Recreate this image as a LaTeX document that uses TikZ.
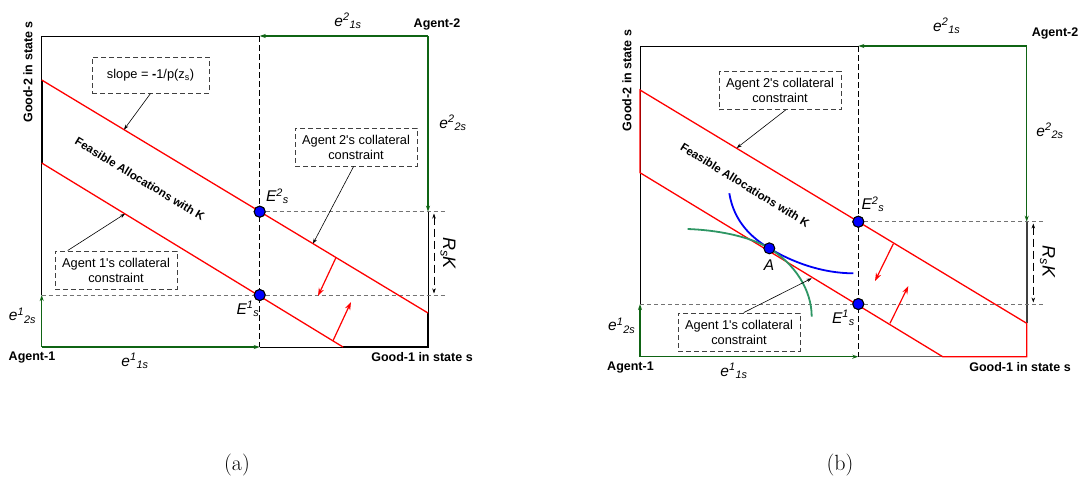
\documentclass[tikz,border=0pt]{standalone}
\usepackage{fontspec}
\newfontfamily\arialf{Liberation Sans}
\usetikzlibrary{arrows.meta,positioning}
\definecolor{redline}{RGB}{255,0,0}
\definecolor{greenedge}{RGB}{15,100,20}
\definecolor{greencurve}{RGB}{46,150,100}
\definecolor{bluecurve}{RGB}{0,0,245}
\newcommand{\supsub}[3]{#1\textsuperscript{#2}\textsubscript{#3}}

\tikzset{
  dashbox/.style={draw=black!75, dash pattern=on 5pt off 3pt, line width=1pt,
    minimum width=122pt, minimum height=38pt, inner sep=2pt, align=center,
    font=\arialf\fontsize{12.8}{15}\selectfont},
  leader/.style={-{Stealth[length=5pt,width=3.5pt]}, black, line width=0.6pt},
  moveline/.style={-{Stealth[length=8pt,width=5.5pt]}, redline, line width=1.2pt},
  endow/.style={-{Stealth[length=6pt,width=4pt]}, greenedge, line width=1.3pt},
  budget/.style={redline, line width=1.3pt},
  guide/.style={black!55, dash pattern=on 4pt off 3pt, line width=0.7pt},
  split/.style={black, dash pattern=on 6pt off 3pt, line width=0.9pt},
  frame/.style={black, line width=1pt},
  dimline/.style={{Stealth[length=5pt,width=3.5pt]}-{Stealth[length=5pt,width=3.5pt]}, black, dash pattern=on 8pt off 4pt, line width=0.7pt},
  dot/.style={circle, fill=blue, draw=black, line width=1pt, inner sep=0pt, minimum size=11pt},
  sym/.style={font=\arialf\itshape\fontsize{15.5}{17}\selectfont, inner sep=0pt},
  bigsym/.style={font=\arialf\itshape\fontsize{18}{20}\selectfont, inner sep=0pt},
  agent/.style={font=\arialf\bfseries\fontsize{12.5}{14}\selectfont, inner sep=0pt},
  feas/.style={font=\arialf\bfseries\fontsize{11.5}{13}\selectfont, inner sep=0pt},
  capt/.style={font=\fontsize{22}{26}\selectfont, inner sep=0pt}
}

\begin{document}
\begin{tikzpicture}[x=1pt,y=-1pt]
\useasboundingbox (0,0) rectangle (1078,480);

% ---------------- panel (a) ----------------
\coordinate (a-nw) at (41.7,36);
\coordinate (a-ne) at (428,36);
\coordinate (a-sw) at (41.7,347);
\coordinate (a-se) at (428,347);
\coordinate (a-mt) at (259.7,36);
\coordinate (a-mb) at (259.7,347);
\coordinate (a-l1) at (41.7,295);
\coordinate (a-r2) at (428,211.7);
\coordinate (a-u1) at (41.7,80);
\coordinate (a-u2) at (428,313);
\coordinate (a-d1) at (41.7,163);
\coordinate (a-d2) at (343,347);
\coordinate (a-g1) at (447,295);
\coordinate (a-g2) at (447,211.7);

% box edges
\draw[frame] (a-nw) -- (a-mt);
\draw[frame] (a-nw) -- (a-l1);
\draw[frame] (a-mb) -- (a-se) -- (a-r2);
\draw[black, line width=2pt] (a-u1) -- (a-d1);
\draw[black, line width=2pt] (a-d2) -- (a-se) -- (a-u2);
\draw[endow] (a-sw) -- (a-mb);
\draw[endow] (a-sw) -- (a-l1);
\draw[endow] (a-ne) -- (a-mt);
\draw[endow] (a-ne) -- (a-r2);

% dashed guides
\draw[split] (a-mt) -- (a-mb);
\node[dot] (a-E2) at (259.7,211.7) {};
\node[dot] (a-E1) at (259.7,295) {};
\draw[guide] (a-E2) -- (a-g2);
\draw[guide] (a-l1) -- (a-E1) -- (a-g1);

% budget lines
\draw[budget] (a-u1) -- (a-u2);
\draw[budget] (a-d1) -- (a-d2);
\node[dot] at (a-E2) {};
\node[dot] at (a-E1) {};

% shifts
\coordinate (a-s1) at (336,257.5);
\coordinate (a-s2) at (318,296);
\coordinate (a-s3) at (333,340.7);
\coordinate (a-s4) at (351,302);
\draw[moveline] (a-s1) -- (a-s2);
\draw[moveline] (a-s3) -- (a-s4);

% R_s K
\coordinate (a-k1) at (434,213.5);
\coordinate (a-k2) at (434,293.5);
\draw[dimline] (a-k1) -- (a-k2);
\node[bigsym, rotate=-90] (a-rk) at (448,253) {R\textsubscript{s}K};

% notes
\node[dashbox, minimum width=117pt, minimum height=36pt] (a-slope) at (150.5,75) {slope = \textbf{-}1/p(z\textsubscript{s})};
\node[dashbox] (a-c2) at (356,147) {Agent 2\textquotesingle s collateral\\constraint};
\node[dashbox] (a-c1) at (116,270) {Agent 1\textquotesingle s collateral\\constraint};
\coordinate (a-t0) at (124,129.6);
\coordinate (a-t2) at (313,243.6);
\coordinate (a-t1) at (125,213.8);
\draw[leader] (a-slope.south) -- (a-t0);
\draw[leader] (a-c2.-97) -- (a-t2);
\draw[leader] (a-c1.158) -- (a-t1);

\node[feas, rotate=-31.2] (a-feas) at (140,179) {Feasible Allocations with K};

% labels
\node[sym] (a-e21) at (348,21) {\supsub{e}{2}{1s}};
\node[agent] (a-ag2) at (437,24) {Agent-2};
\node[sym] (a-e22) at (453,123) {\supsub{e}{2}{2s}};
\node[agent, rotate=90] (a-good2) at (28,72) {Good-2 in state s};
\node[sym] (a-lE2) at (277.5,196) {\supsub{E}{2}{s}};
\node[sym] (a-lE1) at (248,309) {\supsub{E}{1}{s}};
\node[sym] (a-e12) at (22.5,316) {\supsub{e}{1}{2s}};
\node[agent] (a-ag1) at (32,358) {Agent-1};
\node[sym] (a-e11) at (135,361) {\supsub{e}{1}{1s}};
\node[agent] (a-good1) at (422,357) {Good-1 in state s};
\node[capt] (a-cap) at (237,465) {(a)};

% ---------------- panel (b) ----------------
\coordinate (b-nw) at (640,46);
\coordinate (b-ne) at (1026.7,46);
\coordinate (b-sw) at (640,356.7);
\coordinate (b-se) at (1026.7,356.7);
\coordinate (b-mt) at (858.3,46);
\coordinate (b-mb) at (858.3,356.7);
\coordinate (b-l1) at (640,304);
\coordinate (b-r2) at (1026.7,221.7);
\coordinate (b-u1) at (640,90);
\coordinate (b-u2) at (1026.7,323.3);
\coordinate (b-d1) at (640,172.7);
\coordinate (b-d2) at (942.7,356.7);
\coordinate (b-g1) at (1045,304);
\coordinate (b-g2) at (1045,221.7);

% box edges
\draw[frame] (b-nw) -- (b-mt);
\draw[frame] (b-nw) -- (b-l1);
\draw[frame, black!60] (b-mb) -- (b-d2);
\draw[black!75, line width=2pt] (b-r2) -- (b-u2);
\draw[endow] (b-sw) -- (b-mb);
\draw[endow] (b-sw) -- (b-l1);
\draw[endow] (b-ne) -- (b-mt);
\draw[endow] (b-ne) -- (b-r2);

% dashed guides
\draw[split] (b-mt) -- (b-mb);
\node[dot] (b-E2) at (858.3,221.7) {};
\node[dot] (b-E1) at (858.3,304) {};
\draw[guide] (b-E2) -- (b-g2);
\draw[guide] (b-l1) -- (b-E1) -- (b-g1);

% feasible set
\draw[budget] (b-u1) -- (b-u2) -- (b-se) -- (b-d2) -- (b-d1) -- cycle;
\node[dot] at (b-E2) {};
\node[dot] at (b-E1) {};

% indifference curves
\coordinate (b-A) at (769.3,248.3);
\draw[bluecurve, line width=1.8pt] (729.3,193.3) .. controls (734,222) and (752,238) .. (b-A)
  .. controls (792,262) and (822,273.3) .. (853.3,273.3);
\draw[greencurve, line width=1.8pt] (687.7,229) .. controls (715,230) and (748,235.5) .. (b-A)
  .. controls (795,264) and (811.7,290) .. (811.7,316.7);
\node[dot] (b-Adot) at (b-A) {};

% shifts
\coordinate (b-s1) at (893.3,243.8);
\coordinate (b-s2) at (875,281);
\coordinate (b-s3) at (890,323.3);
\coordinate (b-s4) at (908.3,286);
\draw[moveline] (b-s1) -- (b-s2);
\draw[moveline] (b-s3) -- (b-s4);

% R_s K
\coordinate (b-k1) at (1033.3,223.5);
\coordinate (b-k2) at (1033.3,302.5);
\draw[dimline] (b-k1) -- (b-k2);
\node[bigsym, rotate=-90] (b-rk) at (1047.5,261.5) {R\textsubscript{s}K};

% notes
\node[dashbox] (b-c2) at (780,90.5) {Agent 2\textquotesingle s collateral\\constraint};
\node[dashbox] (b-c1) at (739,332) {Agent 1\textquotesingle s collateral\\constraint};
\coordinate (b-t2) at (736.7,148);
\coordinate (b-t1) at (811.7,278.3);
\draw[leader] (b-c2.-74) -- (b-t2);
\draw[leader] (b-c1.76) -- (b-t1);

\node[feas, rotate=-31.7] (b-feas) at (745,185) {Feasible Allocations with K};

% labels
\node[sym] (b-e21) at (946.7,26) {\supsub{e}{2}{1s}};
\node[agent] (b-ag2) at (1055,33) {Agent-2};
\node[sym] (b-e22) at (1050,131) {\supsub{e}{2}{2s}};
\node[agent, rotate=90] (b-good2) at (627,80.5) {Good-2 in state s};
\node[sym] (b-lE2) at (873,204) {\supsub{E}{2}{s}};
\node[sym] (b-lE1) at (843.5,318) {\supsub{E}{1}{s}};
\node[sym] (b-lA) at (769,265) {A};
\node[sym] (b-e12) at (621.7,326) {\supsub{e}{1}{2s}};
\node[agent] (b-ag1) at (630.5,367.5) {Agent-1};
\node[sym] (b-e11) at (734,371) {\supsub{e}{1}{1s}};
\node[agent] (b-good1) at (1020,367) {Good-1 in state s};
\node[capt] (b-cap) at (840,465) {(b)};
\end{tikzpicture}
\end{document}
